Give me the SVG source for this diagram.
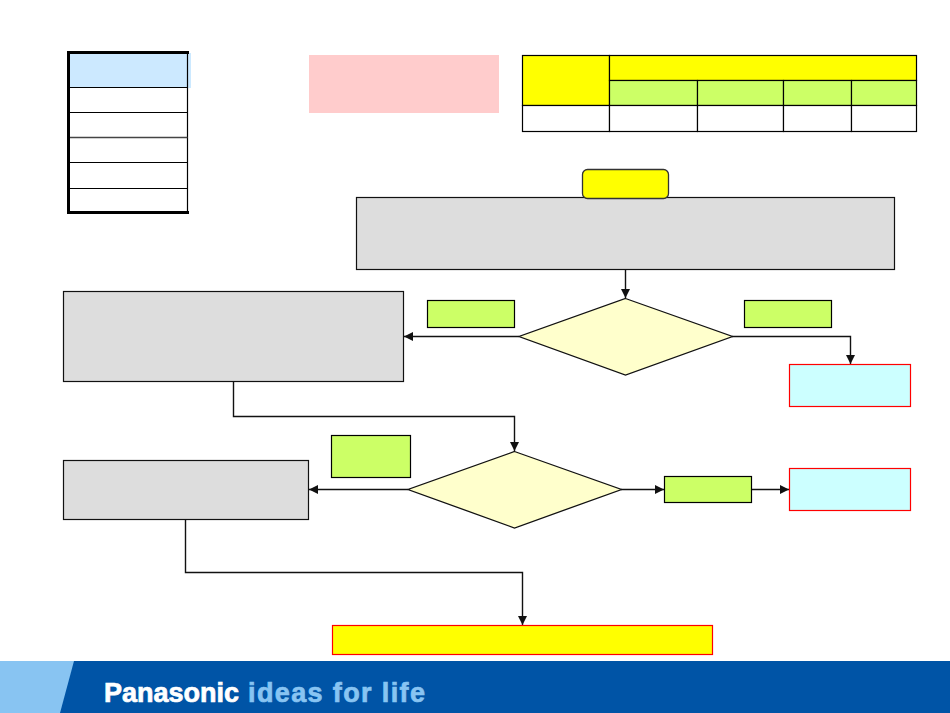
<svg xmlns="http://www.w3.org/2000/svg" width="950" height="713" viewBox="0 0 950 713">
<style>
.g{fill:#ddd;stroke:#111;stroke-width:1.2}
.l{fill:#cf6;stroke:#000;stroke-width:1.2}
.y{fill:#ff0;stroke:#000;stroke-width:1.2}
.w{fill:#fff;stroke:#000;stroke-width:1.2}
.d{fill:#ffc;stroke:#111;stroke-width:1.3}
.c{fill:#cff;stroke:#f00;stroke-width:1.2}
.t{fill:none;stroke:#111;stroke-width:1.4}
.ln{stroke:#000;stroke-width:1.2}
.f{font-family:"Liberation Sans",Arial,sans-serif;font-weight:700;font-size:27px;stroke-width:.7px}
</style>
<defs><marker id="a" markerUnits="userSpaceOnUse" markerWidth="10" markerHeight="10" refX="9" refY="4.500" orient="auto"><path d="M0 0L9 4.500L0 9z" fill="#111"/></marker></defs>
<rect width="950" height="713" fill="#fff"/>
<g id="legend">
<rect x="70" y="53" width="121" height="35" fill="#cce9ff"/>
<path class="ln" d="M70 87.500H187.500M70 112.500H187.500M70 162.500H187.500M70 188.500H187.500M187.500 53V212" fill="none"/>
<path d="M70 137.500H187.500" fill="none" stroke="#444" stroke-width="1.6"/>
<path d="M68.500 213V52.500H189" fill="none" stroke="#000" stroke-width="3"/>
<path d="M67 212.500H189" fill="none" stroke="#000" stroke-width="3"/>
</g>
<g id="note"><rect x="309" y="55" width="190" height="58" fill="#fcc"/></g>
<g id="table">
<rect class="y" x="522.500" y="55.500" width="87" height="50"/>
<rect class="y" x="609.500" y="55.500" width="307" height="25"/>
<rect class="l" x="609.500" y="80.500" width="88" height="25"/>
<rect class="l" x="697.500" y="80.500" width="86" height="25"/>
<rect class="l" x="783.500" y="80.500" width="68" height="25"/>
<rect class="l" x="851.500" y="80.500" width="65" height="25"/>
<rect class="w" x="522.500" y="105.500" width="87" height="26"/>
<rect class="w" x="609.500" y="105.500" width="88" height="26"/>
<rect class="w" x="697.500" y="105.500" width="86" height="26"/>
<rect class="w" x="783.500" y="105.500" width="68" height="26"/>
<rect class="w" x="851.500" y="105.500" width="65" height="26"/>
</g>
<g id="connectors" class="t">
<path class="t" marker-end="url(#a)" d="M625.500 269V298"/>
<path class="t" marker-end="url(#a)" d="M519 336.500H404"/>
<path class="t" marker-end="url(#a)" d="M732 336.500H850.500V364"/>
<path class="t" marker-end="url(#a)" d="M233.500 381V416.500H514.500V451"/>
<path class="t" marker-end="url(#a)" d="M408 489.500H309"/>
<path class="t" marker-end="url(#a)" d="M621 489.500H664"/>
<path class="t" marker-end="url(#a)" d="M751 489.500H789"/>
<path class="t" marker-end="url(#a)" d="M185.500 519V572.500H522.500V625"/>
</g>
<g id="process1"><rect class="g" x="356.500" y="197.500" width="538" height="72"/></g>
<g id="start"><rect x="582.500" y="169.500" width="86" height="29" rx="5" fill="#ff0" stroke="#333" stroke-width="1.3"/></g>
<g id="decision1"><polygon class="d" points="625.500,298.500 732.500,336.500 625.500,375 519,336.500"/></g>
<g id="label-left1"><rect class="l" x="427.500" y="300.500" width="87" height="27"/></g>
<g id="label-right1"><rect class="l" x="744.500" y="300.500" width="87" height="27"/></g>
<g id="process2"><rect class="g" x="63.500" y="291.500" width="340" height="90"/></g>
<g id="result1"><rect class="c" x="789.500" y="364.500" width="121" height="42"/></g>
<g id="decision2"><polygon class="d" points="514.500,451.500 621.500,489.500 514.500,528 408,489.500"/></g>
<g id="label-left2"><rect class="l" x="331.500" y="435.500" width="79" height="42"/></g>
<g id="process3"><rect class="g" x="63.500" y="460.500" width="245" height="59"/></g>
<g id="label-right2"><rect class="l" x="664.500" y="476.500" width="87" height="26"/></g>
<g id="result2"><rect class="c" x="789.500" y="468.500" width="121" height="42"/></g>
<g id="end"><rect x="332.500" y="625.500" width="380" height="29" fill="#ff0" stroke="#f00" stroke-width="1.2"/></g>
<g id="footer">
<rect x="0" y="661" width="950" height="52" fill="#0054a6"/>
<polygon points="0,661 74,661 60,713 0,713" fill="#88c4f2"/>
<text class="f" x="104" y="701.500" fill="#fff" stroke="#fff" textLength="135" lengthAdjust="spacing">Panasonic</text>
<text class="f" x="248" y="701.500" fill="#88c4f2" stroke="#88c4f2" textLength="177" lengthAdjust="spacing">ideas for life</text>
</g>
</svg>
